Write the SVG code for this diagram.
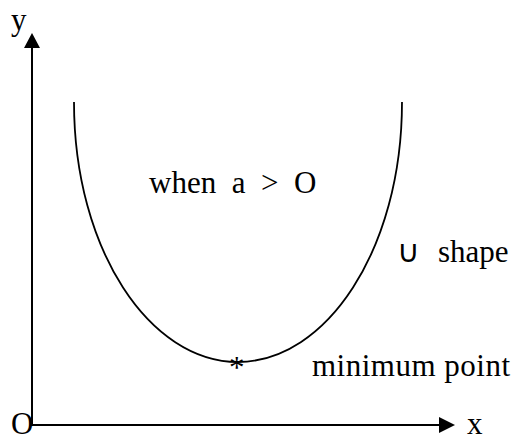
<svg xmlns="http://www.w3.org/2000/svg" width="514" height="437" viewBox="0 0 514 437">
<style>
text{font-family:"Liberation Serif","Times New Roman",serif;font-size:31px;fill:#000}
.ax{stroke:#000;stroke-width:2;fill:none}
.cv{stroke:#000;stroke-width:1.8;fill:none}
</style>
<g id="connectors">
<path id="yaxis" d="M32,426L32,48" class="ax"/>
<path d="M24,48L32,33L40,48z" fill="#000"/>
<path id="xaxis" d="M32,425L440,425" class="ax"/>
<path d="M439,417L455,425L439,433z" fill="#000"/>
</g>
<g id="curve">
<path class="cv" d="M74,102C74,250 150,362 238,362C326,362 402,250 402,102"/>
</g>
<g id="labels">
<text x="11" y="30">y</text>
<text x="11" y="434">O</text>
<text x="467" y="434">x</text>
<text x="229" y="378" font-size="28">*</text>
<text x="149" y="193" font-size="32" xml:space="preserve">when  a  &gt;  O</text>
<text x="397" y="262" font-size="26">∪</text>
<text x="438" y="262">shape</text>
<text x="312" y="376" font-size="31.5" textLength="198">minimum point</text>
</g>
</svg>
